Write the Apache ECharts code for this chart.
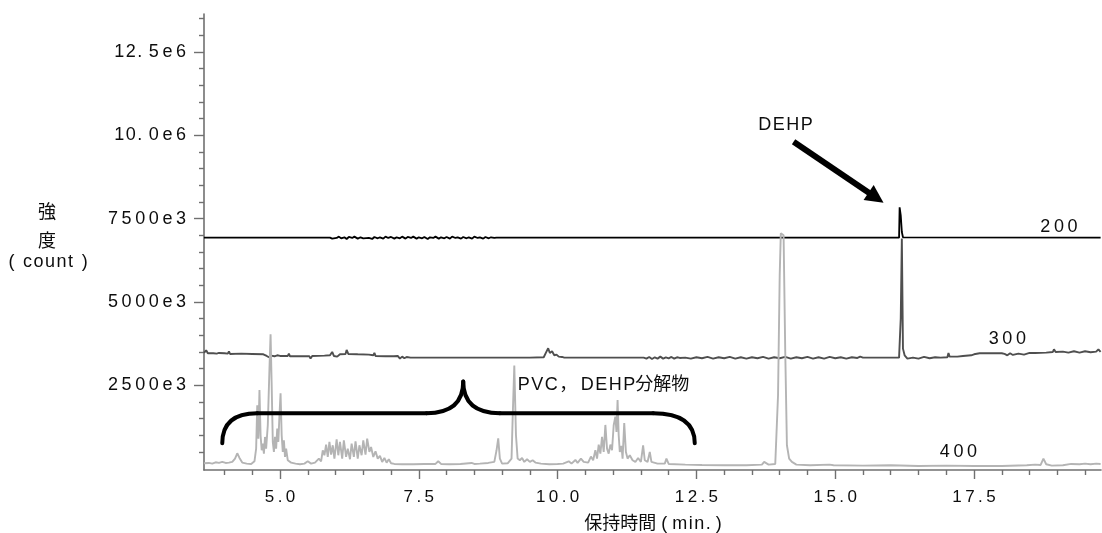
<!DOCTYPE html>
<html><head><meta charset="utf-8">
<script src="https://cdn.jsdelivr.net/npm/echarts@6/dist/echarts.min.js"></script>
<style>html,body{margin:0;padding:0;background:#fff}#c{width:1102px;height:533px}</style>
</head><body><div id="c"></div>
<script>
// Retention time (min) vs intensity (x1e6 counts), three offset chromatograms
const trace200 = [[3.63,6.93],[5.9,6.93],[5.94,6.9],[5.97,6.95],[6.02,6.92],[6.06,6.96],[6.1,6.91],[6.16,6.94],[6.2,6.89],[6.24,6.95],[6.3,6.92],[6.34,6.96],[6.4,6.9],[6.45,6.94],[6.5,6.91],[6.53,6.96],[6.6,6.92],[6.66,6.89],[6.7,6.95],[6.76,6.91],[6.8,6.94],[6.86,6.9],[6.9,6.96],[6.95,6.92],[7.0,6.95],[7.06,6.9],[7.1,6.94],[7.16,6.91],[7.2,6.96],[7.26,6.9],[7.3,6.95],[7.36,6.92],[7.4,6.96],[7.46,6.9],[7.5,6.94],[7.56,6.91],[7.6,6.95],[7.66,6.89],[7.7,6.94],[7.76,6.92],[7.8,6.96],[7.86,6.9],[7.9,6.94],[7.96,6.91],[8.0,6.95],[8.06,6.9],[8.1,6.96],[8.16,6.92],[8.2,6.94],[8.26,6.9],[8.3,6.95],[8.36,6.91],[8.4,6.94],[8.46,6.9],[8.5,6.96],[8.56,6.92],[8.6,6.94],[8.66,6.9],[8.7,6.95],[8.76,6.91],[8.8,6.94],[8.86,6.92],[8.9,6.93],[16.15,6.93],[16.16,7.84],[16.18,7.6],[16.2,7.1],[16.22,6.94],[19.78,6.93]];

const trace300 = [[3.63,3.47],[3.67,3.55],[3.7,3.46],[3.8,3.46],[3.86,3.45],[3.88,3.4],[3.9,3.47],[4.0,3.46],[4.06,3.45],[4.08,3.52],[4.1,3.44],[4.3,3.45],[4.5,3.44],[4.7,3.43],[4.72,3.37],[4.76,3.38],[4.8,3.34],[4.84,3.39],[4.9,3.37],[4.95,3.4],[5.0,3.38],[5.14,3.38],[5.16,3.45],[5.18,3.37],[5.4,3.37],[5.53,3.37],[5.55,3.3],[5.58,3.38],[5.8,3.39],[5.9,3.4],[5.94,3.5],[5.97,3.38],[6.0,3.44],[6.03,3.36],[6.08,3.43],[6.18,3.44],[6.2,3.56],[6.23,3.44],[6.4,3.43],[6.6,3.42],[6.68,3.4],[6.7,3.47],[6.72,3.38],[6.9,3.37],[7.05,3.37],[7.08,3.32],[7.12,3.38],[7.16,3.3],[7.2,3.36],[7.24,3.31],[7.28,3.35],[7.35,3.33],[7.5,3.33],[8.0,3.33],[8.5,3.33],[9.0,3.33],[9.5,3.33],[9.75,3.34],[9.79,3.48],[9.83,3.61],[9.86,3.47],[9.9,3.52],[9.94,3.4],[9.98,3.42],[10.02,3.36],[10.08,3.35],[10.12,3.33],[10.5,3.33],[11.0,3.33],[11.55,3.33],[11.6,3.3],[11.65,3.35],[11.7,3.29],[11.75,3.34],[11.8,3.3],[11.85,3.36],[11.9,3.3],[11.95,3.34],[12.0,3.31],[12.05,3.35],[12.1,3.3],[12.15,3.34],[12.2,3.32],[12.3,3.33],[12.4,3.3],[12.5,3.34],[12.6,3.31],[12.7,3.35],[12.8,3.3],[12.9,3.34],[13.0,3.31],[13.1,3.35],[13.2,3.3],[13.3,3.34],[13.4,3.3],[13.5,3.34],[13.6,3.31],[13.7,3.35],[13.8,3.3],[13.9,3.34],[14.0,3.31],[14.1,3.35],[14.2,3.3],[14.3,3.34],[14.4,3.31],[14.5,3.35],[14.6,3.3],[14.7,3.34],[14.8,3.3],[14.9,3.35],[15.0,3.31],[15.1,3.34],[15.2,3.3],[15.3,3.34],[15.4,3.32],[15.45,3.36],[15.5,3.33],[16.0,3.33],[16.15,3.33],[16.18,4.5],[16.2,6.9],[16.22,3.6],[16.25,3.4],[16.3,3.3],[16.4,3.33],[16.5,3.3],[16.6,3.35],[16.7,3.31],[16.8,3.34],[16.9,3.33],[17.02,3.34],[17.04,3.47],[17.06,3.36],[17.2,3.36],[17.3,3.38],[17.45,3.4],[17.5,3.43],[17.6,3.46],[17.8,3.46],[18.0,3.46],[18.05,3.44],[18.1,3.4],[18.15,3.46],[18.2,3.41],[18.3,3.45],[18.4,3.42],[18.5,3.47],[18.6,3.47],[18.8,3.48],[18.92,3.5],[18.94,3.58],[18.97,3.5],[19.1,3.51],[19.2,3.48],[19.3,3.52],[19.4,3.48],[19.5,3.52],[19.6,3.49],[19.7,3.51],[19.74,3.58],[19.78,3.5]];

const trace400 = [[3.63,0.16],[3.72,0.17],[3.78,0.15],[3.84,0.19],[3.9,0.17],[3.96,0.2],[4.02,0.17],[4.08,0.18],[4.14,0.2],[4.19,0.3],[4.23,0.46],[4.27,0.32],[4.32,0.18],[4.4,0.15],[4.48,0.14],[4.54,0.22],[4.57,0.6],[4.59,1.9],[4.61,0.9],[4.63,2.36],[4.65,1.0],[4.67,0.55],[4.69,0.75],[4.71,0.45],[4.73,0.95],[4.75,0.6],[4.78,1.3],[4.81,3.0],[4.83,4.03],[4.85,2.5],[4.87,0.8],[4.89,0.5],[4.91,0.95],[4.93,0.6],[4.95,1.2],[4.97,0.8],[4.99,1.6],[5.01,2.26],[5.03,1.0],[5.05,0.5],[5.07,0.85],[5.09,0.35],[5.11,0.6],[5.14,0.25],[5.2,0.18],[5.28,0.15],[5.36,0.13],[5.44,0.15],[5.5,0.22],[5.56,0.15],[5.63,0.18],[5.7,0.3],[5.74,0.22],[5.77,0.55],[5.8,0.4],[5.83,0.72],[5.86,0.35],[5.89,0.8],[5.92,0.42],[5.95,0.7],[5.98,0.3],[6.02,0.88],[6.05,0.4],[6.08,0.8],[6.12,0.3],[6.15,0.85],[6.19,0.35],[6.22,0.6],[6.26,0.28],[6.29,0.75],[6.33,0.35],[6.36,0.82],[6.4,0.3],[6.43,0.7],[6.47,0.4],[6.5,0.85],[6.54,0.42],[6.57,0.9],[6.61,0.5],[6.64,0.65],[6.68,0.35],[6.72,0.52],[6.76,0.3],[6.8,0.38],[6.84,0.2],[6.88,0.32],[6.92,0.18],[6.96,0.28],[7.0,0.16],[7.06,0.14],[7.2,0.13],[7.4,0.13],[7.6,0.14],[7.8,0.14],[7.85,0.22],[7.9,0.14],[8.05,0.13],[8.25,0.14],[8.45,0.17],[8.5,0.14],[8.6,0.15],[8.75,0.17],[8.86,0.2],[8.9,0.55],[8.93,0.91],[8.96,0.3],[9.0,0.15],[9.1,0.16],[9.17,0.3],[9.19,1.5],[9.22,3.09],[9.25,1.0],[9.28,0.3],[9.32,0.25],[9.36,0.32],[9.4,0.2],[9.45,0.28],[9.5,0.2],[9.55,0.25],[9.6,0.18],[9.7,0.15],[9.85,0.13],[10.0,0.14],[10.1,0.15],[10.2,0.22],[10.25,0.15],[10.32,0.26],[10.36,0.17],[10.42,0.3],[10.47,0.2],[10.55,0.18],[10.6,0.36],[10.64,0.25],[10.68,0.55],[10.71,0.3],[10.74,0.72],[10.77,0.45],[10.8,0.95],[10.83,0.5],[10.86,1.31],[10.89,0.6],[10.92,0.45],[10.95,0.72],[10.98,0.55],[11.01,1.3],[11.04,1.56],[11.06,1.1],[11.08,2.06],[11.1,1.0],[11.12,0.5],[11.15,0.68],[11.17,0.3],[11.2,1.37],[11.23,0.5],[11.26,0.3],[11.3,0.4],[11.35,0.25],[11.4,0.2],[11.45,0.32],[11.5,0.2],[11.54,0.7],[11.57,0.25],[11.62,0.2],[11.66,0.5],[11.69,0.2],[11.8,0.15],[11.93,0.15],[11.96,0.3],[12.0,0.14],[12.3,0.12],[12.6,0.11],[13.0,0.1],[13.4,0.1],[13.68,0.12],[13.72,0.2],[13.8,0.12],[13.92,0.14],[13.97,2.2],[14.0,5.8],[14.02,7.06],[14.07,7.0],[14.1,3.5],[14.13,0.7],[14.17,0.3],[14.22,0.2],[14.3,0.12],[14.55,0.1],[14.9,0.12],[14.93,0.16],[14.97,0.1],[15.5,0.09],[16.0,0.1],[16.5,0.08],[17.0,0.09],[17.5,0.08],[18.0,0.08],[18.45,0.1],[18.6,0.12],[18.7,0.11],[18.75,0.3],[18.77,0.25],[18.8,0.13],[18.9,0.09],[19.1,0.1],[19.25,0.14],[19.4,0.13],[19.5,0.15],[19.6,0.13],[19.7,0.15],[19.78,0.14]];

const xMajorTicks = [5, 7.5, 10, 12.5, 15, 17.5];
const xTickLabels = ['5.0', '7.5', '10.0', '12.5', '15.0', '17.5'];
const xMinorTicks = [4,4.5,5.5,6,6.5,7,8,8.5,9,9.5,10.5,11,11.5,12,13,13.5,14,14.5,15.5,16,16.5,17,18,18.5,19,19.5];
const yMajorTicks = [2.5, 5, 7.5, 10, 12.5];
const yTickLabels = ['2500e3', '5000e3', '7500e3', '10. 0e6', '12. 5e6'];
const yMinorTicks = [0.5,1,1.5,2,3,3.5,4,4.5,5.5,6,6.5,7,8,8.5,9,9.5,10.5,11,11.5,12,13,13.5];

// annotation anchors (data space)
const braceT = [3.96, 4.59, 7.64, 8.30, 8.96, 11.72, 12.47];
const braceV = [0.76, 1.66, 1.66, 2.61, 1.66, 1.66, 0.76];
const arrowT = [14.25, 15.87];
const arrowV = [9.81, 7.98];
const annoTexts = ['DEHP', '200', '300', '400', 'PVC，DEHP分解物'];
const annoT = [14.105, 19.03, 18.10, 17.22, 9.28];
const annoV = [10.31, 7.25, 3.89, 0.51, 2.51];

const FONT = "'Liberation Sans', Arial, 'Noto Sans CJK JP', sans-serif";
const TS = '\u2009';
const HS = '\u200A';
// insert spacing between characters
const sp = (s, ch) => s.split('').join(ch === undefined ? TS : ch);
// y tick label: words separated by a plain space get a wider gap there
const yLab = s => s.split(' ').map((w, i, a) => a.length > 1 && i === 0 ? sp(w, HS) : sp(w)).join(' ' + HS);

const chart = echarts.init(document.getElementById('c'));
const AX = '#707070';
const TXT = '#0d0d0d';

function renderAnno(params, api) {
  if (params.dataIndex !== 0) return;
  const P = braceT.map((t, i) => api.coord([t, braceV[i]]));
  const bs = { stroke: '#000', lineWidth: 4, fill: null, lineCap: 'round' };
  const ch = [];
  const q = (a, b, c) => ch.push({ type: 'bezierCurve', shape: { x1: a[0], y1: a[1], x2: b[0], y2: b[1], cpx1: c[0], cpy1: c[1] }, style: bs });
  const l = (a, b) => ch.push({ type: 'line', shape: { x1: a[0], y1: a[1], x2: b[0], y2: b[1] }, style: bs });
  q(P[0], P[1], [P[0][0], P[1][1]]);
  l(P[1], P[2]);
  q(P[2], P[3], [P[3][0], P[2][1]]);
  q(P[3], P[4], [P[3][0], P[4][1]]);
  l(P[4], P[5]);
  q(P[5], P[6], [P[6][0], P[5][1]]);
  // arrow
  const S = api.coord([arrowT[0], arrowV[0]]);
  const E = api.coord([arrowT[1], arrowV[1]]);
  const dx = E[0] - S[0], dy = E[1] - S[1], len = Math.hypot(dx, dy);
  const ux = dx / len, uy = dy / len, px = -uy, py = ux;
  const hl = 18, hw = 9;
  const bx = E[0] - ux * hl, by = E[1] - uy * hl;
  ch.push({ type: 'line', shape: { x1: S[0], y1: S[1], x2: bx + ux * 3, y2: by + uy * 3 }, style: { stroke: '#000', lineWidth: 6 } });
  ch.push({ type: 'polygon', shape: { points: [[E[0], E[1]], [bx + px * hw, by + py * hw], [bx - px * hw, by - py * hw]] }, style: { fill: '#000' } });
  // text labels
  annoTexts.forEach((txt, i) => {
    const c = api.coord([annoT[i], annoV[i]]);
    const isLeft = i === 4;
    let s;
    if (i === 0) s = sp(txt, HS);
    else if (i === 4) s = 'P' + HS + 'V' + HS + 'C' + HS + '，' + TS + 'D' + HS + 'E' + HS + 'H' + HS + 'P分解物';
    else s = sp(txt);
    ch.push({ type: 'text', x: c[0], y: c[1], style: { text: s, fill: TXT, font: '18px ' + FONT, textAlign: isLeft ? 'left' : 'center', textVerticalAlign: 'middle', align: isLeft ? 'left' : 'center', verticalAlign: 'middle' } });
  });
  return { type: 'group', children: ch };
}

const option = {
  animation: false,
  backgroundColor: '#fff',
  grid: { left: 204, right: 1, top: 14, bottom: 63 },
  xAxis: [
    {
      type: 'value', min: 3.631, max: 19.787, position: 'bottom',
      axisLine: { show: true, onZero: false, lineStyle: { color: AX, width: 1.6 } },
      axisTick: { show: true, customValues: xMajorTicks, length: 9, lineStyle: { color: AX, width: 1.4 } },
      axisLabel: { customValues: xMajorTicks, margin: 19, color: TXT, fontSize: 17, fontFamily: FONT,
        formatter: v => sp(xTickLabels[xMajorTicks.indexOf(v)] || '') },
      splitLine: { show: false }
    },
    {
      type: 'value', min: 3.631, max: 19.787, position: 'bottom',
      axisLine: { show: false, onZero: false },
      axisTick: { show: true, customValues: xMinorTicks, length: 5, lineStyle: { color: AX, width: 1.4 } },
      axisLabel: { show: false }, splitLine: { show: false }
    }
  ],
  yAxis: [
    {
      type: 'value', min: -0.042, max: 13.64, position: 'left',
      axisLine: { show: true, onZero: false, lineStyle: { color: AX, width: 1.6 } },
      axisTick: { show: true, customValues: yMajorTicks, length: 10, lineStyle: { color: AX, width: 1.4 } },
      axisLabel: { customValues: yMajorTicks, margin: 18, color: TXT, fontSize: 18, fontFamily: FONT,
        formatter: v => yLab(yTickLabels[yMajorTicks.indexOf(v)] || '') },
      splitLine: { show: false }
    },
    {
      type: 'value', min: -0.042, max: 13.64, position: 'left',
      axisLine: { show: false, onZero: false },
      axisTick: { show: true, customValues: yMinorTicks, length: 5, lineStyle: { color: AX, width: 1.4 } },
      axisLabel: { show: false }, splitLine: { show: false }
    }
  ],
  graphic: [
    { type: 'text', x: 47, y: 213, style: { text: '強', font: '18px ' + FONT, fill: TXT, align: 'center', verticalAlign: 'middle' } },
    { type: 'text', x: 47, y: 242, style: { text: '度', font: '18px ' + FONT, fill: TXT, align: 'center', verticalAlign: 'middle' } },
    { type: 'text', x: 48, y: 262, style: { text: '(' + ' ' + TS + sp('count', HS) + TS + ' ' + ')', font: '18px ' + FONT, fill: TXT, align: 'center', verticalAlign: 'middle' } },
    { type: 'text', x: 653, y: 524, style: { text: '保持時間' + ' ( ' + sp('min.', HS) + ' )', font: '18px ' + FONT, fill: TXT, align: 'center', verticalAlign: 'middle' } }
  ],
  series: [
    { name: '200', type: 'line', data: trace200, xAxisIndex: 0, yAxisIndex: 0, showSymbol: false, symbol: 'none', lineStyle: { color: '#000', width: 1.8 }, z: 2 },
    { name: '300', type: 'line', data: trace300, xAxisIndex: 0, yAxisIndex: 0, showSymbol: false, symbol: 'none', lineStyle: { color: '#4f4f4f', width: 1.9 }, z: 3 },
    { name: '400', type: 'line', data: trace400, xAxisIndex: 0, yAxisIndex: 0, showSymbol: false, symbol: 'none', lineStyle: { color: '#b4b4b4', width: 1.9 }, z: 4 },
    { type: 'custom', xAxisIndex: 0, yAxisIndex: 0, data: [[braceT[0], braceV[0]]], renderItem: renderAnno, clip: false, silent: true, z: 10 }
  ]
};
chart.setOption(option);
</script></body></html>
